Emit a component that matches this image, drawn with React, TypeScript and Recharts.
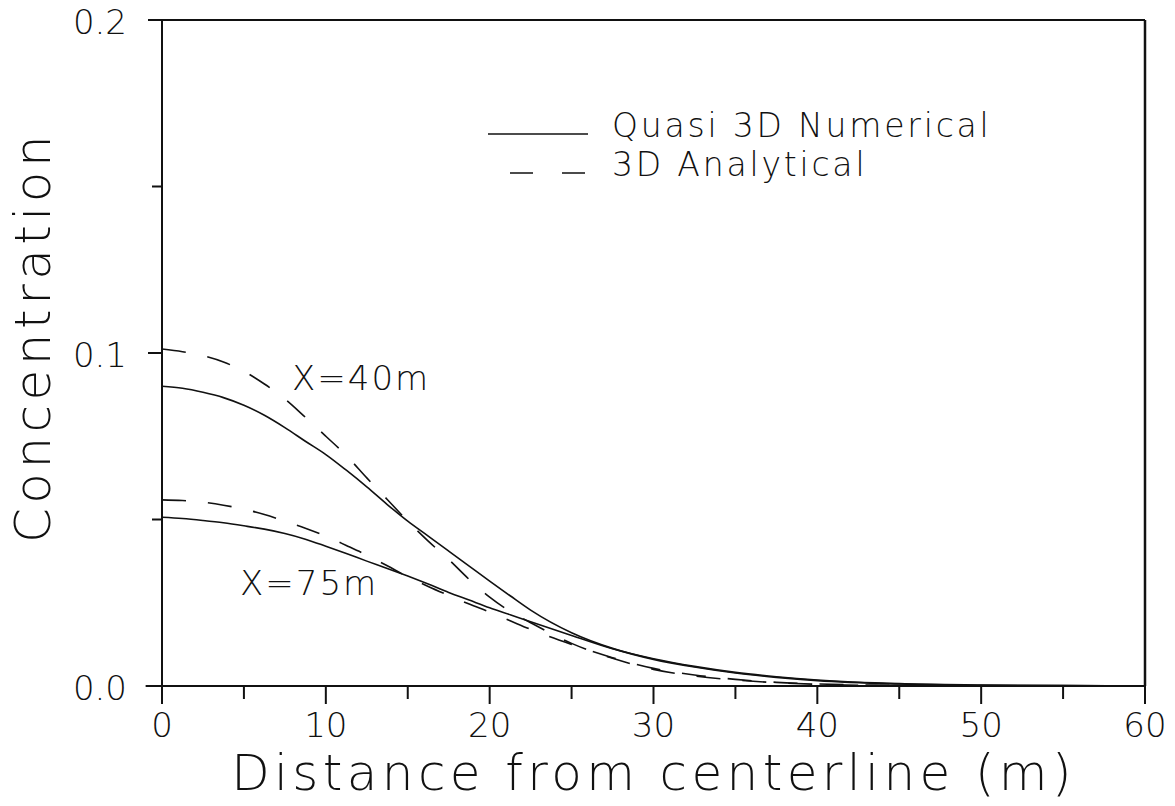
import React from 'react';
import { LineChart, Line, XAxis, YAxis, ReferenceLine, ReferenceDot } from 'recharts';

const distance = [0, 1.25, 2.5, 3.75, 5, 6.25, 7.5, 8.75, 10, 11.25, 12.5, 13.75, 15, 16.25, 17.5, 18.75, 20, 21.25, 22.5, 25, 27.5, 30, 32.5, 35, 37.5, 40, 45, 50, 55, 60];
const quasi40 = [0.0900, 0.0894, 0.0882, 0.0866, 0.0843, 0.0813, 0.0776, 0.0735, 0.0695, 0.0648, 0.0598, 0.0545, 0.0495, 0.0450, 0.0405, 0.0360, 0.0315, 0.0271, 0.0228, 0.0160, 0.0113, 0.0080, 0.0057, 0.0039, 0.0026, 0.0016, 0.0006, 0.0002, 0.0001, 0.0000];
const analytical40 = [0.1012, 0.1004, 0.0992, 0.0973, 0.0945, 0.0907, 0.0862, 0.0807, 0.0750, 0.0692, 0.0625, 0.0560, 0.0495, 0.0435, 0.0380, 0.0320, 0.0267, 0.0224, 0.0190, 0.0128, 0.0083, 0.0050, 0.0030, 0.0018, 0.0010, 0.0005, 0.0001, 0.0000, 0.0000, 0.0000];
const quasi75 = [0.0507, 0.0503, 0.0497, 0.0490, 0.0481, 0.0471, 0.0458, 0.0441, 0.0420, 0.0398, 0.0375, 0.0353, 0.0330, 0.0306, 0.0281, 0.0258, 0.0235, 0.0214, 0.0193, 0.0152, 0.0112, 0.0082, 0.0059, 0.0041, 0.0028, 0.0018, 0.0007, 0.0003, 0.0001, 0.0000];
const analytical75 = [0.0559, 0.0557, 0.0552, 0.0543, 0.0531, 0.0515, 0.0495, 0.0474, 0.0450, 0.0422, 0.0393, 0.0361, 0.0328, 0.0299, 0.0272, 0.0246, 0.0222, 0.0196, 0.0170, 0.0125, 0.0085, 0.0053, 0.0033, 0.0020, 0.0011, 0.0006, 0.0002, 0.0000, 0.0000, 0.0000];

const xTicks = [0, 5, 10, 15, 20, 25, 30, 35, 40, 45, 50, 55, 60];
const yTicks = [0, 0.05, 0.1, 0.15, 0.2];
const xTitle = 'Distance from centerline (m)';
const yTitle = 'Concentration';
const legendLabels = ['Quasi 3D Numerical', '3D Analytical'];
const annotations = [
  { x: 7.94, y: 0.0889, text: 'X=40m' },
  { x: 4.76, y: 0.0273, text: 'X=75m' },
];

const data = distance.map((d, i) => ({
  d,
  q40: quasi40[i],
  a40: analytical40[i],
  q75: quasi75[i],
  a75: analytical75[i],
}));

const FONT = "'DejaVu Sans', sans-serif";
const INK = '#111';
const DASH = '24 22';

const XTick = (props: any) => {
  const { x, y, payload } = props;
  const v = payload.value;
  const major = v % 10 === 0;
  return (
    <g>
      <line x1={x} x2={x} y1={y} y2={y + (major ? 18 : 13)} stroke={INK} strokeWidth={2} />
      {major && (
        <text x={x} y={y + 51} textAnchor="middle" fontFamily={FONT} fontSize={34} fontWeight={200} fill={INK}>
          {String(v)}
        </text>
      )}
    </g>
  );
};

const YTick = (props: any) => {
  const { x, y, payload } = props;
  const v = payload.value;
  const major = Math.abs(v * 10 - Math.round(v * 10)) < 1e-6;
  return (
    <g>
      <line x1={x} x2={x - (major ? 14 : 10)} y1={y} y2={y} stroke={INK} strokeWidth={2} />
      {major && (
        <text x={x - 35} y={y + 14} textAnchor="end" fontFamily={FONT} fontSize={34} fontWeight={200} fill={INK}>
          {v.toFixed(1)}
        </text>
      )}
    </g>
  );
};

const XTitle = (props: any) => {
  const vb = props.viewBox || {};
  const cx = vb.x + vb.width / 2;
  return (
    <text x={cx} y={vb.y + 104} textAnchor="middle" fontFamily={FONT} fontSize={50} fontWeight={200} letterSpacing={4.4} fill={INK}>
      {xTitle}
    </text>
  );
};

const YTitle = (props: any) => {
  const vb = props.viewBox || {};
  const cx = 50;
  const cy = vb.y + vb.height / 2 - 16;
  return (
    <text x={cx} y={cy} transform={`rotate(-90, ${cx}, ${cy})`} textAnchor="middle" fontFamily={FONT} fontSize={50} fontWeight={200} letterSpacing={4.5} fill={INK}>
      {yTitle}
    </text>
  );
};

const Annot = (text: string) => (props: any) => {
  const vb = props.viewBox || {};
  return (
    <text x={vb.x} y={vb.y} textAnchor="start" fontFamily={FONT} fontSize={34} fontWeight={200} letterSpacing={2} fill={INK}>
      {text}
    </text>
  );
};

export default function App() {
  return (
    <div style={{ position: 'relative', width: 1175, height: 806, margin: '-8px 0 0 -8px', background: '#fff' }}>
      <LineChart width={1175} height={806} data={data} margin={{ top: 20, right: 30, bottom: 0, left: 0 }}>
        <XAxis
          dataKey="d"
          type="number"
          domain={[0, 60]}
          ticks={xTicks}
          tick={<XTick />}
          tickLine={false}
          tickSize={0}
          tickMargin={0}
          height={120}
          axisLine={{ stroke: INK, strokeWidth: 2 }}
          interval={0}
          label={<XTitle />}
        />
        <YAxis
          type="number"
          domain={[0, 0.2]}
          ticks={yTicks}
          tick={<YTick />}
          tickLine={false}
          tickSize={0}
          tickMargin={0}
          width={162}
          axisLine={{ stroke: INK, strokeWidth: 2 }}
          interval={0}
          label={<YTitle />}
        />
        <ReferenceLine segment={[{ x: -0.8, y: 0.2 }, { x: 60, y: 0.2 }]} stroke={INK} strokeWidth={2} ifOverflow="visible" />
        <ReferenceLine segment={[{ x: -1, y: 0 }, { x: 0, y: 0 }]} stroke={INK} strokeWidth={2} ifOverflow="visible" />
        <ReferenceLine x={60} stroke={INK} strokeWidth={2.5} />
        <Line dataKey="q40" type="monotone" stroke={INK} strokeWidth={1.6} dot={false} isAnimationActive={false} />
        <Line dataKey="a40" type="monotone" stroke={INK} strokeWidth={1.6} strokeDasharray={DASH} dot={false} isAnimationActive={false} />
        <Line dataKey="q75" type="monotone" stroke={INK} strokeWidth={1.6} dot={false} isAnimationActive={false} />
        <Line dataKey="a75" type="monotone" stroke={INK} strokeWidth={1.6} strokeDasharray={DASH} dot={false} isAnimationActive={false} />
        {annotations.map((a) => (
          <ReferenceDot key={a.text} x={a.x} y={a.y} r={0} stroke="none" fill="none" label={Annot(a.text)} />
        ))}
      </LineChart>
      <svg width={1175} height={806} style={{ position: 'absolute', left: 0, top: 0, pointerEvents: 'none' }}>
        <line x1={488} x2={588} y1={134} y2={134} stroke={INK} strokeWidth={1.6} />
        <text x={612} y={137} fontFamily={FONT} fontSize={33} fontWeight={200} letterSpacing={2.8} fill={INK}>
          {legendLabels[0]}
        </text>
        <line x1={510} x2={588} y1={173} y2={173} stroke={INK} strokeWidth={1.6} strokeDasharray="23 29" />
        <text x={612} y={176} fontFamily={FONT} fontSize={33} fontWeight={200} letterSpacing={2.8} fill={INK}>
          {legendLabels[1]}
        </text>
      </svg>
    </div>
  );
}
